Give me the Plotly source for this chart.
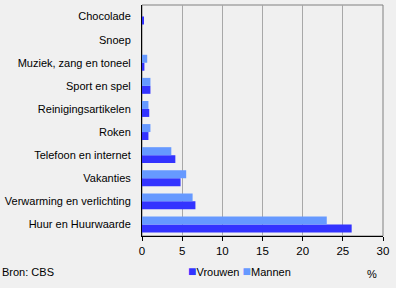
import plotly.graph_objects as go

categories = ["Huur en Huurwaarde", "Verwarming en verlichting", "Vakanties",
              "Telefoon en internet", "Roken", "Reinigingsartikelen",
              "Sport en spel", "Muziek, zang en toneel", "Snoep", "Chocolade"]
vrouwen = [26.1, 6.65, 4.8, 4.15, 0.8, 0.9, 1.05, 0.3, 0.0, 0.15]
mannen = [23.0, 6.3, 5.5, 3.65, 1.05, 0.8, 1.05, 0.65, 0.0, 0.0]
x_ticks = [0, 5, 10, 15, 20, 25, 30]

c_vrouwen = "#3333FF"
c_mannen = "#6699FF"
font = "Liberation Sans, Arial, sans-serif"

fig = go.Figure()
fig.add_trace(go.Bar(y=categories, x=vrouwen, orientation="h", name="Vrouwen",
                     marker=dict(color=c_vrouwen, line=dict(width=0))))
fig.add_trace(go.Bar(y=categories, x=mannen, orientation="h", name="Mannen",
                     marker=dict(color=c_mannen, line=dict(width=0))))

fig.update_layout(
    width=396, height=288,
    margin=dict(l=142, r=13, t=5, b=52),
    paper_bgcolor="#F0F0F0", plot_bgcolor="#F0F0F0",
    barmode="group", bargap=0.31, bargroupgap=0,
    showlegend=False,
    font=dict(family=font, size=11, color="black"),
    xaxis=dict(range=[0, 30], tickvals=x_ticks, showgrid=True,
               gridcolor="#A8A8A8", gridwidth=1, zeroline=False,
               showline=True, linecolor="black", linewidth=1,
               ticks="outside", ticklen=4, tickcolor="black",
               tickfont=dict(size=11.5, family=font), fixedrange=True),
    yaxis=dict(showgrid=False, zeroline=False, showline=True,
               linecolor="black", linewidth=1, ticks="",
               ticklabelstandoff=8,
               tickfont=dict(size=11, family=font), fixedrange=True),
    shapes=[dict(type="rect", xref="paper", yref="paper", x0=0, x1=1, y0=0, y1=1,
                 line=dict(color="#808080", width=1), layer="below")],
    annotations=[
        dict(text="Bron: CBS", xref="paper", yref="paper", x=-142/241, y=-36/231,
             xanchor="left", yanchor="middle", showarrow=False,
             font=dict(size=11, family=font)),
        dict(text="%", xref="paper", yref="paper", x=(372-142)/241, y=-38/231,
             xanchor="center", yanchor="middle", showarrow=False,
             font=dict(size=11, family=font)),
        dict(text=f"<span style='color:{c_vrouwen};font-size:14px'>■</span>Vrouwen "
                  f"<span style='color:{c_mannen};font-size:14px'>■</span>Mannen",
             xref="paper", yref="paper", x=(186-142)/241, y=-35/231,
             xanchor="left", yanchor="middle", showarrow=False,
             font=dict(size=11, family=font)),
    ],
)

fig.write_html("out.html")
